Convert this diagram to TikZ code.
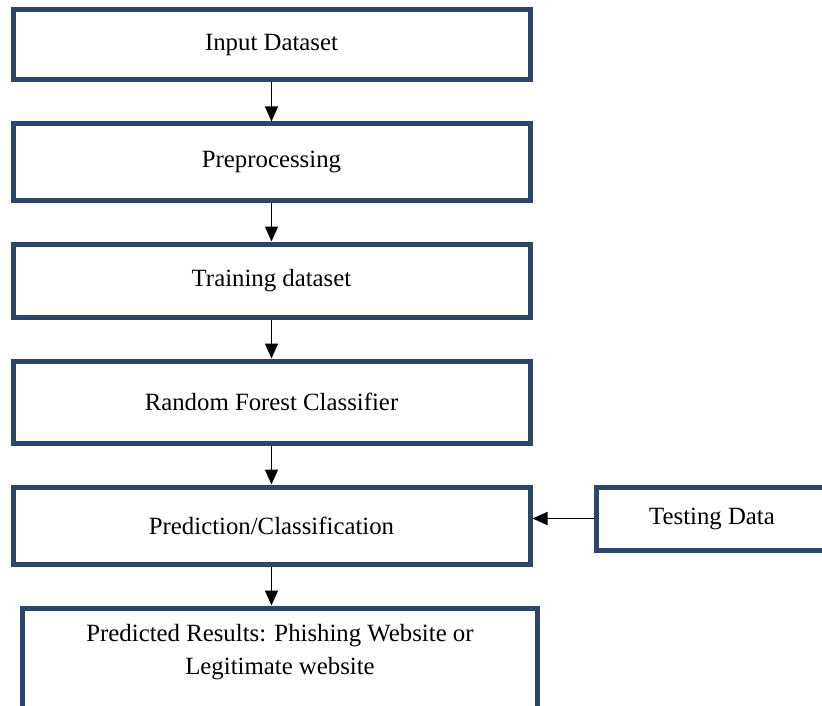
\documentclass[tikz,border=0pt]{standalone}
\usepackage{fontspec}
\setmainfont{Liberation Serif}
\usetikzlibrary{arrows.meta, positioning}
\definecolor{boxnavy}{RGB}{44,70,105}

\begin{document}
\begin{tikzpicture}[x=1pt, y=1pt, font=\fontsize{24.8}{33}\selectfont,
    fld/.style={draw=boxnavy, line width=5pt, minimum width=517pt, align=center, inner sep=4pt},
    flow/.style={-{Triangle[length=15pt,width=13pt]}, line width=1.5pt},
    node distance=39pt]
    \useasboundingbox (0,0) rectangle (822,-706);
    \node[fld, minimum height=70pt] (inp) at (271.5,-45) {Input Dataset};
    \node[fld, minimum height=76pt, below=of inp] (pre) {Preprocessing};
    \node[fld, minimum height=73pt, below=of pre] (train) {Training dataset};
    \node[fld, minimum height=82pt, below=of train] (rfc) {Random Forest Classifier};
    \node[fld, minimum height=77pt, below=of rfc] (pred) {Prediction/Classification};
    \node[fld, minimum width=232pt, minimum height=63pt, right=61pt of pred, yshift=7pt] (test) {Testing Data};
    \node[fld, minimum width=515.5pt, inner ysep=16pt, text depth=110pt, below=of pred, xshift=8.5pt] (res) {Predicted Results: Phishing Website or\\Legitimate website};
    \draw[flow] (inp) -- (pre);
    \draw[flow] (pre) -- (train);
    \draw[flow] (train) -- (rfc);
    \draw[flow] (rfc) -- (pred);
    \draw[flow] (test.west) -- (pred.east |- test.west);
    \draw[flow] (pred.south) -- (res.north -| pred.south);
\end{tikzpicture}
\end{document}
